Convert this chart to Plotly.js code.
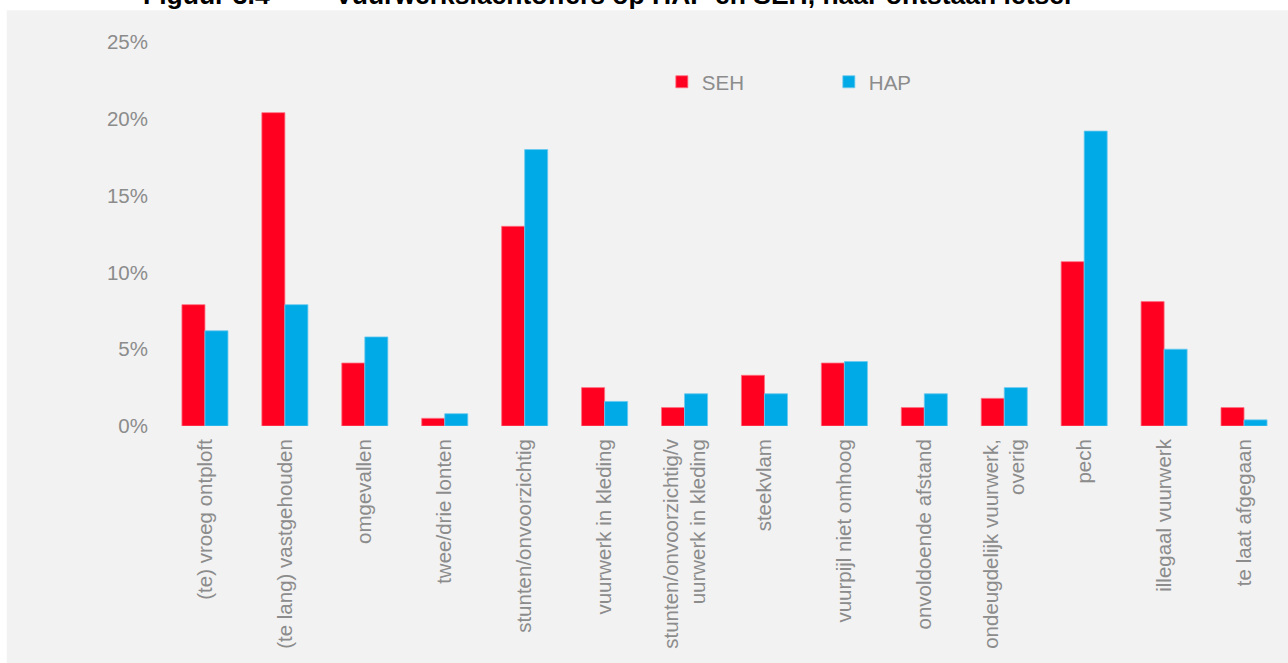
<!DOCTYPE html>
<html>
<head>
<meta charset="utf-8">
<script src="https://cdn.plot.ly/plotly-3.0.1.min.js"></script>
<style>
  html, body { margin: 0; padding: 0; background: #ffffff; }
  #chart { width: 1288px; height: 663px; }
</style>
</head>
<body>
<div id="chart"></div>
<script>
var categories = [
  "(te) vroeg ontploft",
  "(te lang) vastgehouden",
  "omgevallen",
  "twee/drie lonten",
  "stunten/onvoorzichtig",
  "vuurwerk in kleding",
  "stunten/onvoorzichtig/v<br>uurwerk in kleding",
  "steekvlam",
  "vuurpijl niet omhoog",
  "onvoldoende afstand",
  "ondeugdelijk vuurwerk,<br>overig",
  "pech",
  "illegaal vuurwerk",
  "te laat afgegaan"
];
var sehValues = [7.9, 20.4, 4.1, 0.5, 13.0, 2.5, 1.2, 3.3, 4.1, 1.2, 1.8, 10.7, 8.1, 1.2];
var hapValues = [6.2, 7.9, 5.8, 0.8, 18.0, 1.6, 2.1, 2.1, 4.2, 2.1, 2.5, 19.2, 5.0, 0.4];
var yTickValues = [0, 5, 10, 15, 20, 25];
var yTickLabels = ["0%", "5%", "10%", "15%", "20%", "25%"];

var font = "Arial, 'Liberation Sans', sans-serif";
var grey = "#8c8c8c";

var traces = [
  {
    type: "bar", name: "SEH", x: categories, y: sehValues,
    marker: { color: "#ff0020", line: { color: "#ff6f80", width: 0.8 } },
    hoverinfo: "skip"
  },
  {
    type: "bar", name: "HAP", x: categories, y: hapValues,
    marker: { color: "#00aae6", line: { color: "#6cc9ef", width: 0.8 } },
    hoverinfo: "skip"
  }
];

var layout = {
  width: 1288, height: 663,
  paper_bgcolor: "#ffffff",
  plot_bgcolor: "#f2f2f2",
  margin: { l: 165, r: 4, t: 42, b: 237 },
  barmode: "group",
  bargap: 0.424,
  bargroupgap: 0,
  font: { family: font, size: 20, color: grey },
  showlegend: true,
  legend: {
    orientation: "h",
    x: 0.444, y: 0.896, xanchor: "left", yanchor: "middle",
    bgcolor: "rgba(0,0,0,0)",
    font: { family: font, size: 20.5, color: grey },
    entrywidth: 122, entrywidthmode: "pixels",
    itemwidth: 30,
    traceorder: "normal"
  },
  xaxis: {
    type: "category",
    tickangle: -90,
    showgrid: false, showline: false, zeroline: false,
    ticks: "", ticklabelstandoff: 8,
    tickfont: { family: font, size: 20.5, color: grey },
    fixedrange: true
  },
  yaxis: {
    range: [0, 25],
    tickvals: yTickValues, ticktext: yTickLabels,
    showgrid: false, showline: false, zeroline: false,
    ticks: "", ticklabelstandoff: 16,
    tickfont: { family: font, size: 20.5, color: grey },
    fixedrange: true
  },
  shapes: [
    {
      type: "rect", xref: "paper", yref: "paper", layer: "below",
      x0: -0.1414, x1: 1.005, y0: -0.62, y1: 1.0828,
      fillcolor: "#f2f2f2", line: { width: 0 }
    }
  ],
  annotations: [
    {
      xref: "paper", yref: "paper", x: -0.0215, y: 1.079,
      xanchor: "left", yanchor: "bottom", showarrow: false,
      text: "<b>Figuur 3.4</b>",
      font: { family: font, size: 26.5, color: "#000000" }
    },
    {
      xref: "paper", yref: "paper", x: 0.1505, y: 1.079,
      xanchor: "left", yanchor: "bottom", showarrow: false,
      text: "<b>Vuurwerkslachtoffers op HAP en SEH, naar ontstaan letsel</b>",
      font: { family: font, size: 26.5, color: "#000000" }
    }
  ]
};

Plotly.newPlot("chart", traces, layout, { displayModeBar: false, staticPlot: true });
</script>
</body>
</html>
